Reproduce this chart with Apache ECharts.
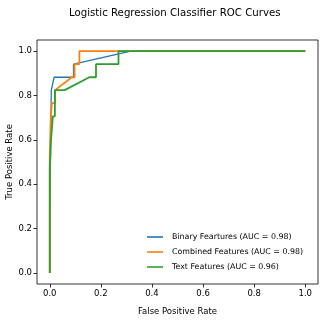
<!DOCTYPE html>
<html><head><meta charset="utf-8">
<script src="https://cdn.jsdelivr.net/npm/echarts@6/dist/echarts.min.js"></script>
<style>html,body{margin:0;padding:0;background:#fff}#c{width:327px;height:327px}</style>
</head><body><div id="c"></div>
<script>
const seriesNames = ['Binary Feartures (AUC = 0.98)', 'Combined Features (AUC = 0.98)', 'Text Features (AUC = 0.96)'];
const binaryFpr = [0, 0, 0.006, 0.006, 0.017, 0.093, 0.093, 0.317, 1];
const binaryTpr = [0, 0.235, 0.235, 0.824, 0.882, 0.882, 0.941, 1, 1];
const combinedFpr = [0, 0, 0.004, 0.004, 0.008, 0.008, 0.021, 0.021, 0.086, 0.097, 0.097, 0.116, 0.116, 1];
const combinedTpr = [0, 0.529, 0.529, 0.706, 0.706, 0.765, 0.765, 0.824, 0.882, 0.882, 0.941, 0.941, 1, 1];
const textFpr = [0, 0, 0.004, 0.004, 0.008, 0.008, 0.012, 0.012, 0.02, 0.02, 0.058, 0.155, 0.181, 0.181, 0.269, 0.269, 1];
const textTpr = [0, 0.471, 0.471, 0.588, 0.588, 0.647, 0.647, 0.706, 0.706, 0.824, 0.824, 0.882, 0.882, 0.941, 0.941, 1, 1];
const tickValues = [0, 0.2, 0.4, 0.6, 0.8, 1.0];
const colors = ['#1f77b4', '#ff7f0e', '#2ca02c'];
const widths = [1.3, 1.8, 1.8];

const pair = (xs, ys) => xs.map((x, i) => [x, ys[i]]);
const curves = [pair(binaryFpr, binaryTpr), pair(combinedFpr, combinedTpr), pair(textFpr, textTpr)];
const font = 'DejaVu Sans';
const axisCommon = {
  type: 'value', min: -0.05, max: 1.05,
  splitLine: { show: false },
  axisLine: { show: false, onZero: false },
  axisTick: { show: true, inside: false, length: 3.5, customValues: tickValues, lineStyle: { color: '#000', width: 0.8 } },
  axisLabel: { customValues: tickValues, formatter: v => v.toFixed(1), color: '#000', fontSize: 8.5, fontFamily: font, margin: 5 },
  nameLocation: 'middle',
  nameMoveOverlap: false,
  nameTextStyle: { color: '#000', fontSize: 8.5, fontFamily: font }
};
const chart = echarts.init(document.getElementById('c'), null, { renderer: 'canvas' });
chart.setOption({
  animation: false,
  backgroundColor: '#fff',
  title: { text: 'Logistic Regression Classifier ROC Curves', left: 64, top: 3,
    textStyle: { color: '#000', fontSize: 10.2, fontWeight: 'normal', fontFamily: font } },
  grid: { left: 37, right: 9, top: 40, bottom: 43, show: true, borderColor: '#000', borderWidth: 0.8,
    containLabel: false, outerBoundsMode: 'none' },
  xAxis: Object.assign({}, axisCommon, { name: 'False Positive Rate', nameGap: 23 }),
  yAxis: Object.assign({}, axisCommon, { name: 'True Positive Rate', nameGap: 23 }),
  legend: {
    orient: 'vertical', left: 147, bottom: 56, icon: 'rect', itemWidth: 16, itemHeight: 1.6, itemGap: 7,
    padding: 0, borderWidth: 0,
    textStyle: { color: '#000', fontSize: 7.9, fontFamily: font, padding: [0, 0, 0, 4] },
    data: seriesNames
  },
  series: curves.map((d, i) => ({
    name: seriesNames[i], type: 'line', data: d, showSymbol: false, symbol: 'none',
    lineStyle: { color: colors[i], width: widths[i] }, itemStyle: { color: colors[i] }
  }))
});
</script></body></html>
